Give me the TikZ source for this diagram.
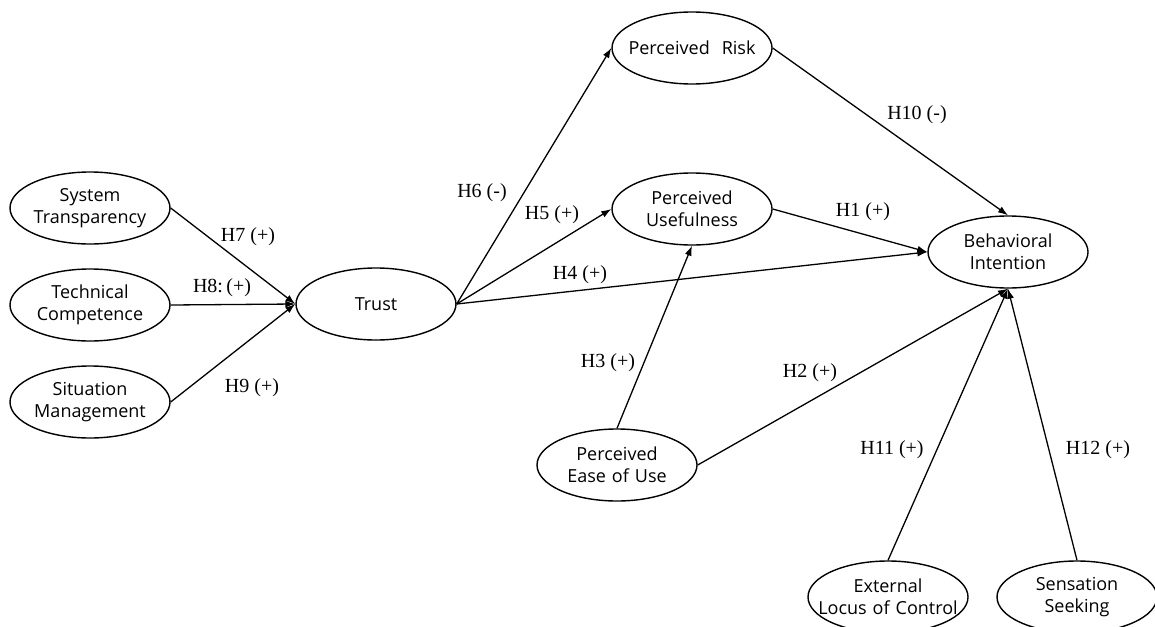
\documentclass[tikz,border=0pt]{standalone}
\usepackage{fontspec}
\setmainfont{Liberation Serif}
\newfontfamily\ellfont{Open Sans}
\usetikzlibrary{arrows.meta,shapes.geometric}
\tikzset{
  construct/.style={ellipse,draw,line width=1.4pt,minimum width=160pt,minimum height=72pt,
    inner xsep=-25pt,inner ysep=0pt,text width=150pt,align=center,
    font=\ellfont\fontsize{18}{22}\selectfont},
  path/.style={line width=1.3pt,-{Latex[length=10pt,width=7pt]}},
  hyp/.style={font=\fontsize{20}{22}\selectfont,inner sep=1pt}
}
\begin{document}
\begin{tikzpicture}[x=1pt,y=-1pt]
\clip (0,0) rectangle (1155,626);
\fill[white] (0,0) rectangle (1155,626);
% constructs
\node[construct] (st) at (90,208) {System\\Transparency};
\node[construct] (tc) at (90,305) {Technical\\Competence};
\node[construct] (sm) at (90,402) {Situation\\Management};
\node[construct] (trust) at (376,304) {Trust};
\node[construct] (pr) at (692,48) {Perceived\ \ Risk};
\node[construct] (pu) at (692,209) {Perceived\\Usefulness};
\node[construct] (bi) at (1008,252) {Behavioral\\Intention};
\node[construct] (peou) at (617,465) {Perceived\\Ease of Use};
\node[construct] (elc) at (888,597) {External\\Locus of Control};
\node[construct] (ss) at (1077,597) {Sensation\\Seeking};
% paths
\draw[path] (st.east) -- (trust.west);
\draw[path] (tc.east) -- (trust.west);
\draw[path] (sm.east) -- (trust.west);
\draw[path] (trust.east) -- (pr.west);
\draw[path] (trust.east) -- (pu.west);
\draw[path] (trust.east) -- (bi.west);
\draw[path] (pu.east) -- (bi.west);
\draw[path] (pr.east) -- (bi.north);
\draw[path] (peou.north) -- (pu.south);
\draw[path] (peou.east) -- (bi.south);
\draw[path] (elc.north) -- (bi.south);
\draw[path] (ss.north) -- (bi.south);
% labels
\node[hyp] (h7) at (248,237) {H7 (+)};
\node[hyp] (h8) at (222,288) {H8:\,(+)};
\node[hyp] (h9) at (252,388) {H9 (+)};
\node[hyp] (h6) at (482,193) {H6 (-)};
\node[hyp] (h5) at (552,215) {H5 (+)};
\node[hyp] (h4) at (580,275) {H4 (+)};
\node[hyp] (h1) at (863,212) {H1 (+)};
\node[hyp] (h10) at (917,115) {H10 (-)};
\node[hyp] (h3) at (608,363) {H3 (+)};
\node[hyp] (h2) at (810,373) {H2 (+)};
\node[hyp] (h11) at (892,450) {H11 (+)};
\node[hyp] (h12) at (1098,450) {H12 (+)};
\end{tikzpicture}
\end{document}
